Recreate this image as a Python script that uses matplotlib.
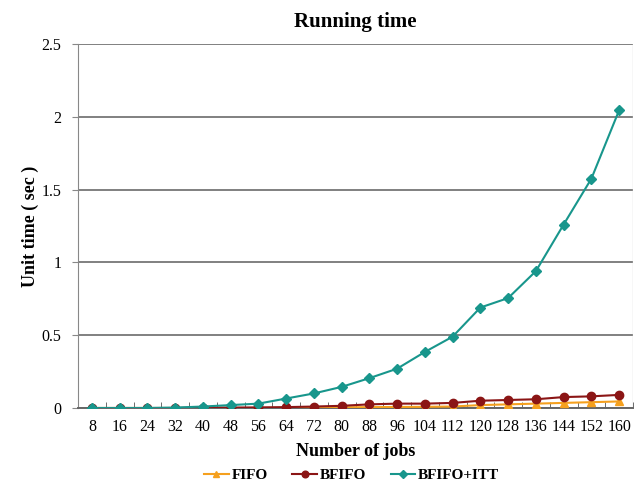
import numpy as np
import matplotlib.pyplot as plt

jobs = [8, 16, 24, 32, 40, 48, 56, 64, 72, 80, 88, 96, 104, 112, 120, 128, 136, 144, 152, 160]
fifo = [0, 0, 0, 0, 0, 0, 0, 0.002, 0.004, 0.005, 0.006, 0.007, 0.008, 0.01, 0.02, 0.025, 0.03, 0.035, 0.04, 0.045]
bfifo = [0, 0, 0, 0, 0.002, 0.003, 0.004, 0.006, 0.01, 0.015, 0.025, 0.03, 0.03, 0.035, 0.05, 0.055, 0.06, 0.075, 0.08, 0.09]
itt = [0, 0, 0, 0.003, 0.01, 0.02, 0.03, 0.065, 0.1, 0.145, 0.205, 0.27, 0.385, 0.49, 0.69, 0.755, 0.94, 1.26, 1.575, 2.045]

plt.rcParams['font.family'] = ['Liberation Serif', 'DejaVu Serif']

fig = plt.figure(figsize=(6.42, 4.86), dpi=100)
ax = fig.add_axes([0.1215, 0.1605, 0.8645, 0.749])

x = np.arange(len(jobs)) + 0.5
ax.plot(x, fifo, color='#f5a01e', marker='^', ms=6, lw=1.5, label='FIFO', zorder=3)
ax.plot(x, bfifo, color='#8b1515', marker='o', ms=6, lw=1.5, label='BFIFO', zorder=4)
ax.plot(x, itt, color='#18968c', marker='D', ms=5, lw=1.5, label='BFIFO+ITT', zorder=5)

ax.set_xlim(0, len(jobs))
ax.set_ylim(0, 2.5)
ax.set_yticks([0, 0.5, 1, 1.5, 2, 2.5])
ax.set_yticklabels(['0', '0.5', '1', '1.5', '2', '2.5'])
ax.set_xticks(x)
ax.set_xticklabels([str(j) for j in jobs])
ax.set_xticks(np.arange(len(jobs) + 1), minor=True)
ax.tick_params(axis='x', which='major', length=0, labelsize=11.5, pad=8)
ax.tick_params(axis='x', which='minor', length=4, direction='in', color='#555555')
ax.tick_params(axis='y', length=4, color='#888888', labelsize=11.5, pad=8)
ax.grid(axis='y', color='#808080', lw=1.4)
ax.set_axisbelow(True)

for s in ['top', 'right']:
    ax.spines[s].set_visible(False)
ax.spines['left'].set_color('#888888')
ax.spines['bottom'].set_color('#666666')
ax.spines['bottom'].set_linewidth(1.4)
ax.axvline(len(jobs), color='#d8d8d8', lw=1)

ax.set_title('Running time', fontsize=15, fontweight='bold', pad=12)
ax.set_xlabel('Number of jobs', fontsize=13, fontweight='bold', labelpad=6)
ax.set_ylabel('Unit time ( sec )', fontsize=13, fontweight='bold', labelpad=2)

leg = fig.legend(loc='center', bbox_to_anchor=(0.548, 0.022), ncol=3, frameon=False,
                 prop={'weight': 'bold', 'size': 11}, handlelength=1.6, columnspacing=1.6,
                 handletextpad=0.2, markerscale=0.8)

fig.savefig('out.png', dpi=100)
